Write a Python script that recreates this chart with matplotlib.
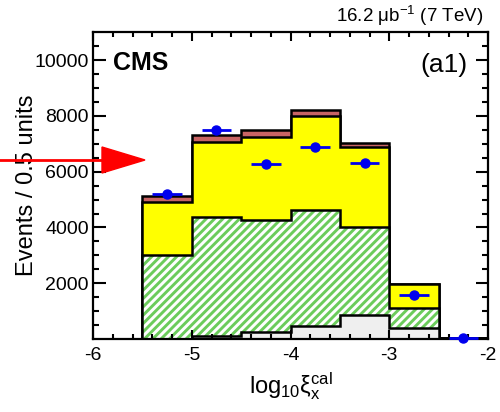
import numpy as np
import matplotlib
matplotlib.use("Agg")
import matplotlib.pyplot as plt
from matplotlib.patches import Polygon
from matplotlib.lines import Line2D

plt.rcParams['font.family'] = ['Liberation Sans', 'DejaVu Sans']
plt.rcParams['mathtext.fontset'] = 'custom'
plt.rcParams['mathtext.rm'] = 'Liberation Sans'
plt.rcParams['mathtext.it'] = 'Liberation Sans'
plt.rcParams['hatch.linewidth'] = 2.1

# bin edges in log10(xi_x^cal)
edges = [-5.5, -5.0, -4.5, -4.0, -3.5, -3.0, -2.5, -2.0]
# stacked MC components (events per bin)
gray = [10, 100, 240, 460, 860, 380, 30]
green = [3010, 4270, 4010, 4170, 3150, 750, 10]
yellow = [1880, 2680, 3000, 3370, 2860, 830, 10]
red = [210, 260, 250, 210, 160, 30, 5]
# data
data_y = [5200, 7490, 6270, 6890, 6320, 1570, 50]
data_yerr = [70, 85, 80, 80, 80, 40, 7]

edges = np.array(edges)
centers = (edges[:-1] + edges[1:]) / 2
c1 = np.array(gray)
c2 = c1 + np.array(green)
c3 = c2 + np.array(yellow)
c4 = c3 + np.array(red)

fig = plt.figure(figsize=(5, 4.12), dpi=100)
ax = fig.add_axes([0.186, 0.177, 0.79, 0.745])

ax.stairs(c4, edges, fill=True, facecolor='#c86464', edgecolor='none')
ax.stairs(c4, edges, color='k', lw=1.8)
ax.stairs(c3, edges, fill=True, facecolor='#ffff00', edgecolor='none')
ax.stairs(c3, edges, color='k', lw=1.8)
ax.stairs(c2, edges, fill=True, facecolor='white', edgecolor='#6ccc5c', hatch='////', lw=0)
ax.stairs(c2, edges, color='k', lw=1.8)
ax.stairs(c1, edges, fill=True, facecolor='#efefef', edgecolor='none')
ax.stairs(c1, edges, color='k', lw=1.8)

ax.errorbar(centers, data_y, xerr=0.15, yerr=data_yerr, fmt='o', color='#0000ee',
            ms=6.5, lw=2, capsize=0, zorder=5, clip_on=False)

ax.set_xlim(-6, -2)
ax.set_ylim(0, 11000)
ax.set_xticks([-6, -5, -4, -3, -2])
ax.set_xticklabels(['-6', '-5', '-4', '-3', '-2'])
ax.set_xticks(np.arange(-6, -2, 0.2), minor=True)
ax.set_yticks([2000, 4000, 6000, 8000, 10000])
ax.set_yticks(np.arange(500, 11000, 500), minor=True)
ax.tick_params(axis='both', which='both', direction='in', top=True, right=True, labelsize=14, width=1.5)
ax.tick_params(axis='y', which='major', length=9, pad=3)
ax.tick_params(axis='y', which='minor', length=4.5)
ax.tick_params(axis='x', which='major', length=6.5, pad=6)
ax.tick_params(axis='x', which='minor', length=3.5)
for s in ax.spines.values():
    s.set_linewidth(1.6)

ax.set_xlabel(r'log$_{10}$ξ$_{x}^{cal}$', fontsize=17)
ax.set_ylabel('Events / 0.5 units', fontsize=17)
ax.yaxis.set_label_coords(-0.139, 0.5)

ax.text(0.05, 0.899, 'CMS', transform=ax.transAxes, fontsize=18, fontweight='bold', va='center')
ax.text(0.947, 0.893, '(a1)', transform=ax.transAxes, fontsize=19, ha='right', va='center')
ax.text(0.987, 1.015, r'16.2 μb$^{-1}$ (7 TeV)', transform=ax.transAxes, fontsize=13.5, ha='right', va='bottom')

# red arrow on the left
W, H = 500.0, 412.0
fig.add_artist(Line2D([0, 102 / W], [1 - 160 / H, 1 - 160 / H], color='red', lw=2, transform=fig.transFigure))
fig.add_artist(Polygon([[102 / W, 1 - 147 / H], [102 / W, 1 - 173 / H], [145 / W, 1 - 160 / H]],
                       closed=True, color='red', transform=fig.transFigure))

fig.savefig('out.png', dpi=100)
